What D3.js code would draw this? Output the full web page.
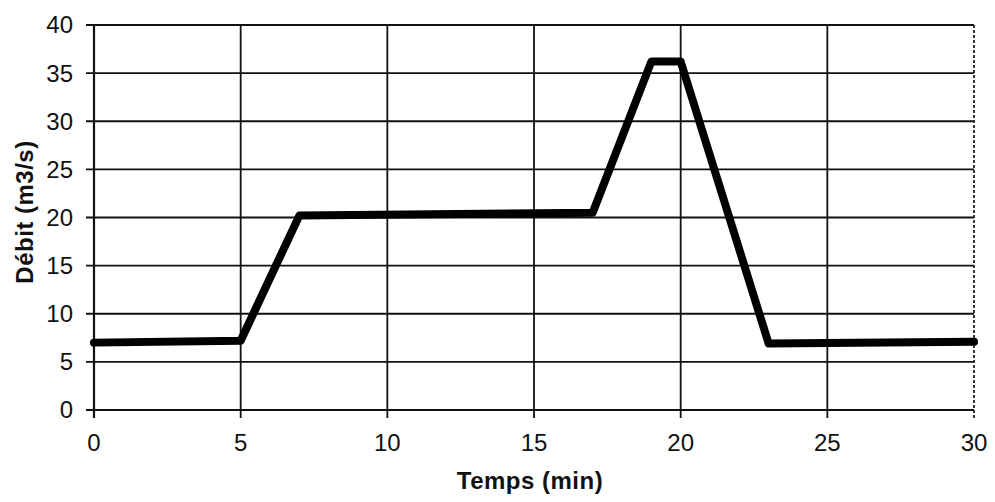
<!DOCTYPE html>
<html>
<head>
<meta charset="utf-8">
<script src="https://cdn.jsdelivr.net/npm/d3@7"></script>
<style>
  body { margin: 0; background: #fff; }
  svg { display: block; font-family: "Liberation Sans", Arial, sans-serif; }
  .tick-label { font-size: 24px; fill: #111; }
  .axis-title { font-size: 24px; font-weight: bold; fill: #111; letter-spacing: 0.5px; }
</style>
</head>
<body>
<div class="js-chart"></div>
<script>
// hydrogramme : temps (min) / debit (m3/s)
var temps = [0, 5, 7, 17, 19, 20, 23, 30];
var debit = [7, 7.2, 20.2, 20.5, 36.2, 36.2, 6.9, 7.1];

var xTicks = [0, 5, 10, 15, 20, 25, 30];
var yTicks = [0, 5, 10, 15, 20, 25, 30, 35, 40];

// note: "top" is taken by window.top, so plot* names
var width = 995,
    height = 502,
    plotLeft = 94,
    plotRight = 974,
    plotTop = 25,
    plotBottom = 410;

var x = d3.scaleLinear().domain([0, 30]).range([plotLeft, plotRight]);
var y = d3.scaleLinear().domain([0, 40]).range([plotBottom, plotTop]);

var svg = d3.select('.js-chart').append('svg')
            .attr('width', width)
            .attr('height', height);

// grid
svg.append('g')
   .selectAll('line')
   .data(yTicks)
   .enter().append('line')
   .attr('x1', plotLeft - 8)
   .attr('x2', plotRight)
   .attr('y1', function (d) { return y(d); })
   .attr('y2', function (d) { return y(d); })
   .attr('stroke', '#111')
   .attr('stroke-width', 1.8);

svg.append('g')
   .selectAll('line')
   .data(xTicks.filter(function (d) { return d < 30; }))
   .enter().append('line')
   .attr('x1', function (d) { return x(d); })
   .attr('x2', function (d) { return x(d); })
   .attr('y1', plotTop)
   .attr('y2', plotBottom + 8)
   .attr('stroke', '#111')
   .attr('stroke-width', function (d) { return d === 0 ? 2.2 : 1.8; });

// right border is a broken line on the scan
svg.append('line')
   .attr('x1', x(30))
   .attr('x2', x(30))
   .attr('y1', plotTop)
   .attr('y2', plotBottom + 8)
   .attr('stroke', '#222')
   .attr('stroke-width', 1.8)
   .attr('stroke-dasharray', '3,2');

// tick labels
svg.append('g')
   .selectAll('text')
   .data(yTicks)
   .enter().append('text')
   .classed('tick-label', true)
   .attr('x', 73)
   .attr('y', function (d) { return y(d); })
   .attr('dy', '0.35em')
   .attr('text-anchor', 'end')
   .text(function (d) { return d; });

svg.append('g')
   .selectAll('text')
   .data(xTicks)
   .enter().append('text')
   .classed('tick-label', true)
   .attr('x', function (d) { return x(d); })
   .attr('y', 451)
   .attr('text-anchor', 'middle')
   .text(function (d) { return d; });

// axis titles
svg.append('text')
   .classed('axis-title', true)
   .attr('x', 530)
   .attr('y', 489)
   .attr('text-anchor', 'middle')
   .text('Temps (min)');

svg.append('text')
   .classed('axis-title', true)
   .attr('transform', 'translate(33, 212) rotate(-90)')
   .attr('text-anchor', 'middle')
   .text('Débit (m3/s)');

// the curve
var points = temps.map(function (t, i) { return [t, debit[i]]; });

var line = d3.line()
             .x(function (d) { return x(d[0]); })
             .y(function (d) { return y(d[1]); });

svg.append('path')
   .datum(points)
   .attr('d', line)
   .attr('fill', 'none')
   .attr('stroke', '#000')
   .attr('stroke-width', 8)
   .attr('stroke-linejoin', 'round')
   .attr('stroke-linecap', 'round');
</script>
</body>
</html>
